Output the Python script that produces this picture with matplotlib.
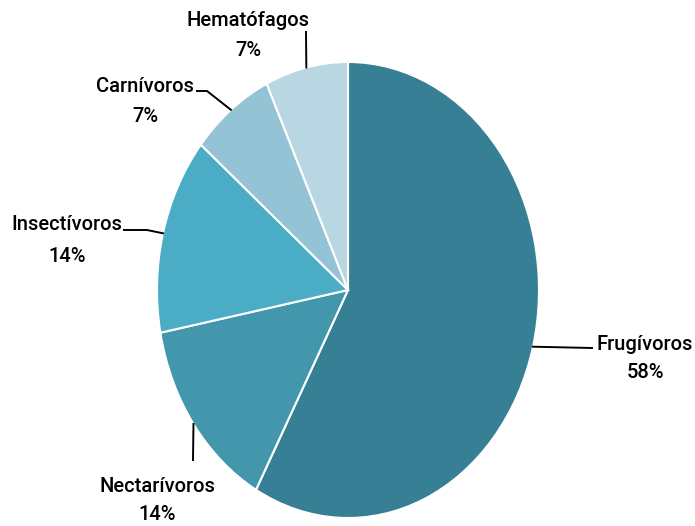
import numpy as np
import matplotlib
matplotlib.use("Agg")
import matplotlib.pyplot as plt

# datos
categorias = ["Frugívoros", "Nectarívoros", "Insectívoros", "Carnívoros", "Hematófagos"]
porcentajes = [58, 14, 14, 7, 7]
colores = ["#377f94", "#4297ad", "#4bacc6", "#93c3d5", "#b9d7e3"]

plt.rcParams['font.family'] = ['Roboto', 'DejaVu Sans']

W, H = 695, 526
fig = plt.figure(figsize=(W / 100, H / 100), dpi=100)

# el pastel es una elipse: centro (348,290) px, radios 191 x 228 px
cx, cy, rx, ry = 348, 290, 191, 228
ax = fig.add_axes([(cx - rx) / W, (H - cy - ry) / H, 2 * rx / W, 2 * ry / H])

wedges, _ = ax.pie(porcentajes, colors=colores, startangle=90, counterclock=False,
                   wedgeprops=dict(edgecolor='white', linewidth=1.5))
ax.set_aspect('auto')
ax.set_xlim(-1, 1)
ax.set_ylim(-1, 1)
ax.axis('off')

def px(x, y):
    # pixel -> coordenadas del eje
    return ((x - cx) / rx, (cy - y) / ry)

# posiciones de las etiquetas (px): texto, porcentaje, puntos de la linea guia
etiquetas = {
    "Frugívoros": ((645, 345), (645, 373), [(592, 348)]),
    "Nectarívoros": ((157, 487), (157, 515), [(193, 460)]),
    "Insectívoros": ((67, 225), (67, 256), [(147, 230), (124, 230)]),
    "Carnívoros": ((145, 87), (145, 117), [(207, 91), (197, 91)]),
    "Hematófagos": ((248, 20), (248, 50), [(306, 32)]),
}

for w, nombre, p in zip(wedges, categorias, porcentajes):
    ang = np.deg2rad((w.theta1 + w.theta2) / 2)
    x0, y0 = np.cos(ang), np.sin(ang)
    t, pc, pts = etiquetas[nombre]
    xs = [x0] + [px(*q)[0] for q in pts]
    ys = [y0] + [px(*q)[1] for q in pts]
    ax.plot(xs, ys, color='black', lw=1.4, clip_on=False)
    ax.text(*px(*t), nombre, ha='center', va='center', fontsize=14.5,
            fontweight='medium', color='black')
    ax.text(*px(*pc), f"{p}%", ha='center', va='center', fontsize=14.5,
            fontweight='medium', color='black')

fig.savefig("out.png", dpi=100)
